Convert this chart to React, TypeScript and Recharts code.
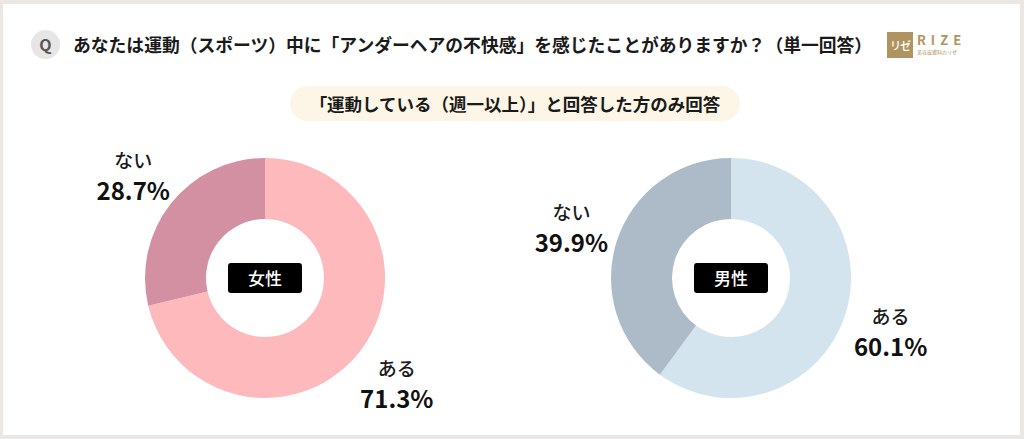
import { PieChart, Pie, Cell } from 'recharts';

// answer categories and shares (%)
const categories = ['ある', 'ない'];
const femaleValues = [71.3, 28.7];
const maleValues = [60.1, 39.9];
const groupLabels = ['女性', '男性'];

const questionText = 'あなたは運動（スポーツ）中に「アンダーヘアの不快感」を感じたことがありますか？（単一回答）';
const noteText = '「運動している（週一以上）」と回答した方のみ回答';

const femaleColors = ['#fdb9bc', '#d490a3'];
const maleColors = ['#d3e4ee', '#adbac7'];

const FONT = '"Noto Sans CJK JP", "Noto Sans", sans-serif';
const RAD = Math.PI / 180;

const femaleData = categories.map((name, i) => ({ name, value: femaleValues[i] }));
const maleData = categories.map((name, i) => ({ name, value: maleValues[i] }));

const centers = [
  { x: 265, y: 278 },
  { x: 731, y: 278 },
];

// name above, percentage below, placed out along the slice's middle angle
function renderLabel(props: any) {
  const { cx, cy, midAngle, outerRadius, value } = props;
  const name = props.name ?? props.payload?.name;
  const r = outerRadius + 48;
  const x = cx + r * Math.cos(-midAngle * RAD);
  const y = cy + r * Math.sin(-midAngle * RAD) + 3;
  return (
    <g>
      <text x={x} y={y - 9} textAnchor="middle" fontFamily={FONT} fontSize={19} fontWeight={500} fill="#1a1a1a">
        {name}
      </text>
      <text x={x} y={y + 23} textAnchor="middle" fontFamily={FONT} fontSize={24} fontWeight={700} fill="#111">
        {Number(value).toFixed(1)}%
      </text>
    </g>
  );
}

export default function App() {
  return (
    <div
      style={{
        position: 'absolute',
        left: 0,
        top: 0,
        width: 1024,
        height: 439,
        background: '#ebe7e5',
        fontFamily: FONT,
        overflow: 'hidden',
      }}
    >
      <div
        style={{
          position: 'absolute',
          left: 3,
          top: 4,
          width: 1017,
          height: 431,
          background: '#fff',
        }}
      />
      {/* header */}
      <div
        style={{
          position: 'absolute',
          left: 31,
          top: 30,
          width: 29,
          height: 29,
          borderRadius: '50%',
          background: '#e6e6e6',
          color: '#555',
          fontWeight: 700,
          fontSize: 16,
          lineHeight: '29px',
          textAlign: 'center',
        }}
      >
        Q
      </div>
      <div
        style={{
          position: 'absolute',
          left: 73,
          top: 32,
          fontSize: 17.8,
          fontWeight: 700,
          color: '#1a1a1a',
          lineHeight: '24px',
          whiteSpace: 'nowrap',
        }}
      >
        {questionText}
      </div>
      {/* logo */}
      <div
        style={{
          position: 'absolute',
          left: 887,
          top: 32,
          width: 26,
          height: 26,
          background: '#b09460',
          color: '#fff',
          fontSize: 11,
          letterSpacing: -1,
          lineHeight: '26px',
          textAlign: 'center',
          fontWeight: 500,
          whiteSpace: 'nowrap',
        }}
      >
        リゼ
      </div>
      <div
        style={{
          position: 'absolute',
          left: 917,
          top: 33,
          color: '#b09460',
          fontSize: 13,
          fontWeight: 700,
          letterSpacing: 5,
          lineHeight: '14px',
        }}
      >
        RIZE
      </div>
      <div
        style={{
          position: 'absolute',
          left: 917,
          top: 49,
          color: '#b09460',
          fontSize: 5,
          lineHeight: '6px',
        }}
      >
        美容皮膚科のリゼ
      </div>
      {/* note pill */}
      <div
        style={{
          position: 'absolute',
          left: 290,
          top: 86,
          width: 450,
          height: 35,
          borderRadius: 18,
          background: '#fdf6e6',
          fontSize: 17.5,
          fontWeight: 700,
          color: '#1a1a1a',
          lineHeight: '35px',
          textAlign: 'center',
          whiteSpace: 'nowrap',
        }}
      >
        {noteText}
      </div>
      <div style={{ position: 'absolute', left: 0, top: 0 }}>
        <PieChart width={1024} height={439} margin={{ top: 0, right: 0, bottom: 0, left: 0 }}>
          <Pie
            data={femaleData}
            dataKey="value"
            nameKey="name"
            cx={centers[0].x}
            cy={centers[0].y}
            innerRadius={59}
            outerRadius={120}
            startAngle={90}
            endAngle={-270}
            stroke="none"
            label={renderLabel}
            labelLine={false}
            isAnimationActive={false}
          >
            {femaleData.map((d, i) => (
              <Cell key={d.name} fill={femaleColors[i]} />
            ))}
          </Pie>
          <Pie
            data={maleData}
            dataKey="value"
            nameKey="name"
            cx={centers[1].x}
            cy={centers[1].y}
            innerRadius={59}
            outerRadius={120}
            startAngle={90}
            endAngle={-270}
            stroke="none"
            label={renderLabel}
            labelLine={false}
            isAnimationActive={false}
          >
            {maleData.map((d, i) => (
              <Cell key={d.name} fill={maleColors[i]} />
            ))}
          </Pie>
        </PieChart>
      </div>
      {/* center tags */}
      {groupLabels.map((g, i) => (
        <div
          key={g}
          style={{
            position: 'absolute',
            left: centers[i].x - 37,
            top: centers[i].y - 15,
            width: 74,
            height: 30,
            borderRadius: 3,
            background: '#000',
            color: '#fff',
            fontSize: 17,
            fontWeight: 500,
            lineHeight: '30px',
            textAlign: 'center',
          }}
        >
          {g}
        </div>
      ))}
    </div>
  );
}
